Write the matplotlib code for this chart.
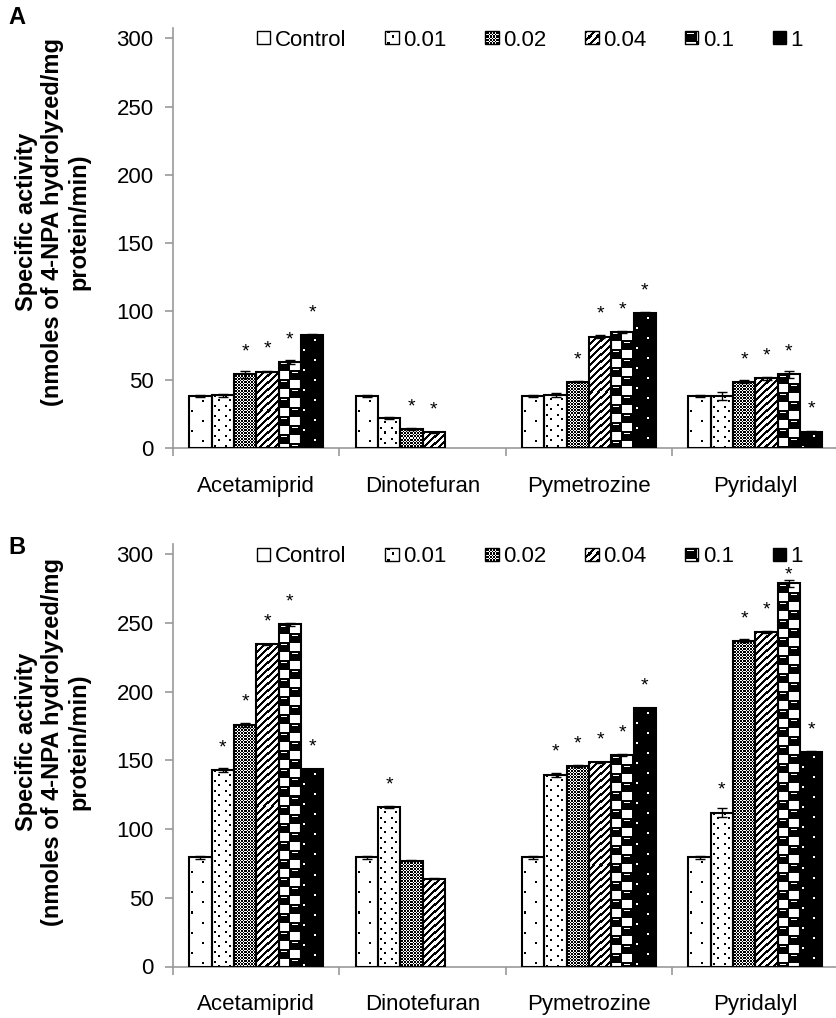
import numpy as np
import matplotlib.pyplot as plt
from matplotlib.patches import Patch, Rectangle
from matplotlib.collections import PatchCollection
from matplotlib.legend_handler import HandlerBase

plt.rcParams['font.family'] = ['Liberation Sans', 'DejaVu Sans']

insecticides = ['Acetamiprid', 'Dinotefuran', 'Pymetrozine', 'Pyridalyl']
doses = ['Control', '0.01', '0.02', '0.04', '0.1', '1']

# panel A - one list per dose, nan = not tested
a_control = [38, 38, 38, 38]
a_001 = [38.5, 22, 39, 38]
a_002 = [54, 14, 48.5, 48.5]
a_004 = [56, 11.5, 81.5, 51]
a_01 = [63, np.nan, 85, 54]
a_1 = [82.5, np.nan, 98.5, 12]

a_control_err = [1, 1, 1, 1]
a_001_err = [1.2, 1, 1.5, 2.7]
a_002_err = [2.4, 0.5, 0.5, 1]
a_004_err = [0.5, 0.5, 1, 1.2]
a_01_err = [1.2, np.nan, 0.5, 2.4]
a_1_err = [1, np.nan, 0.8, 0.8]

# significance stars (1 = star)
a_control_sig = [0, 0, 0, 0]
a_001_sig = [0, 0, 0, 0]
a_002_sig = [1, 1, 1, 1]
a_004_sig = [1, 1, 1, 1]
a_01_sig = [1, 0, 1, 1]
a_1_sig = [1, 0, 1, 1]

# panel B
b_control = [79.5, 79.5, 79.5, 79.5]
b_001 = [143, 116, 139.5, 112]
b_002 = [176, 77, 146, 237]
b_004 = [234.5, 64, 148.5, 243.5]
b_01 = [249, np.nan, 154, 279]
b_1 = [143.5, np.nan, 188, 156]

b_control_err = [1, 1, 1, 1]
b_001_err = [1.5, 1, 1.5, 3]
b_002_err = [1.5, 0.5, 0.5, 1]
b_004_err = [0.5, 0.5, 0.5, 0.5]
b_01_err = [1, np.nan, 0.5, 2.5]
b_1_err = [0.5, np.nan, 0.5, 0.5]

b_control_sig = [0, 0, 0, 0]
b_001_sig = [1, 1, 1, 1]
b_002_sig = [1, 0, 1, 1]
b_004_sig = [1, 0, 1, 1]
b_01_sig = [1, 0, 1, 1]
b_1_sig = [1, 0, 1, 1]

a_vals = [a_control, a_001, a_002, a_004, a_01, a_1]
a_errs = [a_control_err, a_001_err, a_002_err, a_004_err, a_01_err, a_1_err]
a_sigs = [a_control_sig, a_001_sig, a_002_sig, a_004_sig, a_01_sig, a_1_sig]
b_vals = [b_control, b_001, b_002, b_004, b_01, b_1]
b_errs = [b_control_err, b_001_err, b_002_err, b_004_err, b_01_err, b_1_err]
b_sigs = [b_control_sig, b_001_sig, b_002_sig, b_004_sig, b_01_sig, b_1_sig]

FS = 16
GREY = '#999999'


def texture(kind, h, w):
    # excel-like fill patterns, True = black pixel
    r, c = np.mgrid[0:h, 0:w]
    sparse = (((r % 20) // 2 == 2) & ((c % 20) // 2 == 6)) | \
             (((r % 20) // 2 == 7) & ((c % 20) // 2 == 1))
    if kind == 0:
        return sparse
    if kind == 1:
        return (((r % 10) // 2 == 0) & ((c % 10) // 2 == 1)) | \
               (((r % 10) // 2 == 2) & ((c % 10) // 2 == 3))
    if kind == 2:
        return ((r + c) % 3 == 0) | ((r - c) % 3 == 0)
    if kind == 3:
        return (r + c) % 7 < 3
    if kind == 4:
        rr, cc = r % 9, c % 10
        checker = ((r % 18) // 9 + (c % 20) // 10) % 2 == 0
        border = (rr == 0) | (cc == 0)
        line = checker & (rr == 2) & (cc > 1) & (cc < 8)
        return (checker | border) & ~line
    return ~sparse


class TextureHandler(HandlerBase):
    def __init__(self, kind):
        super().__init__()
        self.kind = kind

    def create_artists(self, legend, orig_handle, xdescent, ydescent,
                       width, height, fontsize, trans):
        n = 12
        s = height / n
        x0, y0 = -xdescent, -ydescent
        arr = texture(self.kind, n, n)
        bg = Rectangle((x0, y0), n * s, n * s, facecolor='white',
                       edgecolor='none', transform=trans)
        rects = [Rectangle((x0 + cc * s, y0 + (n - 1 - rr) * s), s, s)
                 for rr, cc in zip(*np.nonzero(arr))]
        pc = PatchCollection(rects, facecolor='black', edgecolor='none',
                             antialiased=False, transform=trans)
        frame = Rectangle((x0, y0), n * s, n * s, facecolor='none',
                          edgecolor='black', linewidth=1.0, transform=trans)
        return [bg, pc, frame]


def draw_panel(ax, vals, errs, sigs, letter, letter_y, label_y, legend_y):
    ax.set_xlim(0, 4)
    ax.set_ylim(0, 307.5)
    width = 0.805 / 6
    centers = np.arange(len(insecticides)) + 0.5
    for j in range(len(doses)):
        v = np.array(vals[j], dtype=float)
        e = np.array(errs[j], dtype=float)
        xs = centers + (j - 2.5) * width
        bars = ax.bar(xs, v, width, facecolor='none', edgecolor='black',
                      linewidth=1.5, zorder=3)
        for bar in bars:
            if np.isnan(bar.get_height()):
                continue
            x0, y0 = bar.get_x(), bar.get_y()
            x1, y1 = x0 + bar.get_width(), y0 + bar.get_height()
            (p0, q0), (p1, q1) = ax.transData.transform([(x0, y0), (x1, y1)])
            w = max(int(round(p1 - p0)), 1)
            h = max(int(round(q1 - q0)), 1)
            ax.imshow(texture(j, h, w), cmap='gray_r', vmin=0, vmax=1,
                      extent=(x0, x1, y0, y1), aspect='auto',
                      interpolation='nearest', origin='upper', zorder=2)
        ok = ~np.isnan(v)
        ax.errorbar(xs[ok], v[ok], yerr=e[ok], fmt='none', ecolor='black',
                    elinewidth=1.0, capsize=3.5, capthick=1.0, zorder=4)
        for x, y, s in zip(xs, v, sigs[j]):
            if s:
                # stars sit above the bar but stay inside the plot area
                ax.text(x, min(y + 21, 290) - 8, '*', ha='center',
                        va='baseline', fontsize=14)
    ax.set_xlim(0, 4)
    ax.set_ylim(0, 307.5)

    for sp in ['top', 'right']:
        ax.spines[sp].set_visible(False)
    for sp in ['left', 'bottom']:
        ax.spines[sp].set_color(GREY)
        ax.spines[sp].set_linewidth(1.2)
    ax.set_yticks(np.arange(0, 301, 50))
    ax.tick_params(axis='y', direction='out', length=6, width=1.2,
                   color=GREY, pad=8, labelsize=FS)
    ax.set_xticks(np.arange(5))
    ax.set_xticklabels([])
    ax.set_xticks(centers, minor=True)
    ax.set_xticklabels(insecticides, minor=True)
    ax.tick_params(axis='x', which='major', direction='out', length=5.5,
                   width=1.2, color=GREY)
    ax.tick_params(axis='x', which='minor', length=0, pad=20, labelsize=FS)

    fig.text(53 / 836, label_y,
             'Specific activity\n(nmoles of 4-NPA hydrolyzed/mg\nprotein/min)',
             rotation=90, ha='center', va='center', multialignment='center',
             fontsize=17, fontweight='bold', linespacing=1.18)
    fig.text(8 / 836, letter_y, letter, ha='left', va='top',
             fontsize=17, fontweight='bold')

    handles = [Patch(label=d) for d in doses]
    hmap = {h: TextureHandler(k) for k, h in enumerate(handles)}
    ax.legend(handles=handles, handler_map=hmap, ncol=6, loc='center right',
              bbox_to_anchor=(803 / 836, legend_y), bbox_transform=fig.transFigure,
              frameon=False, fontsize=FS, handlelength=0.55, handleheight=0.55,
              handletextpad=0.25, columnspacing=1.75, borderpad=0, borderaxespad=0)


fig = plt.figure(figsize=(8.36, 10.18), dpi=100)
ax_a = fig.add_axes([173 / 836, 1 - 448 / 1018, 665.6 / 836, 420 / 1018])
ax_b = fig.add_axes([173 / 836, 1 - 966.5 / 1018, 665.6 / 836, 422.5 / 1018])

draw_panel(ax_a, a_vals, a_errs, a_sigs, 'A', 1 - 6 / 1018,
           1 - 222 / 1018, 1 - 40 / 1018)
draw_panel(ax_b, b_vals, b_errs, b_sigs, 'B', 1 - 536 / 1018,
           1 - 742 / 1018, 1 - 557 / 1018)

fig.savefig('out.png', dpi=100)
